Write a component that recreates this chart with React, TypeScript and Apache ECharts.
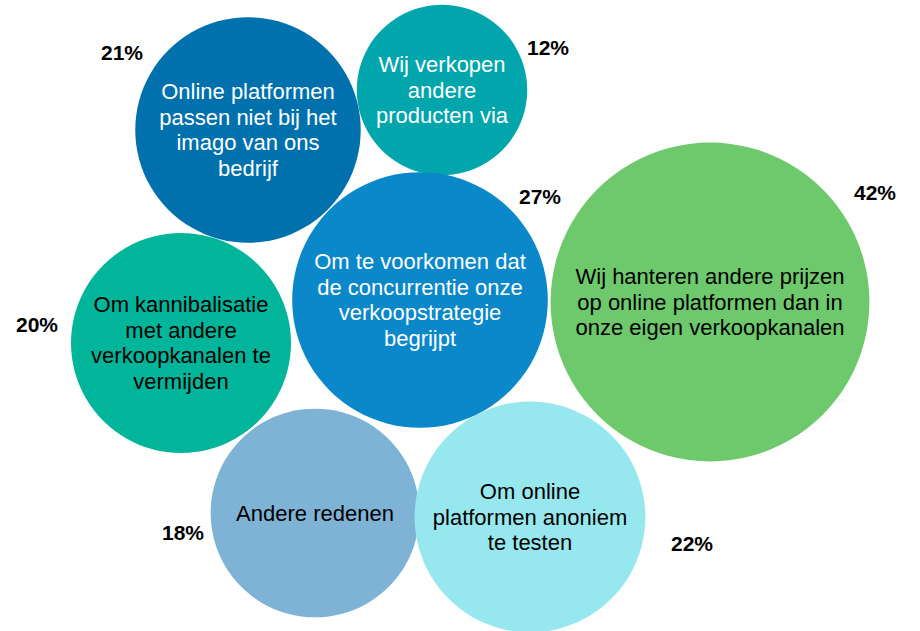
import React, { useEffect, useRef } from "react";
import * as echarts from "echarts";

// Draw order (later items on top)
const labels = [
  "Om kannibalisatie\nmet andere\nverkoopkanalen te\nvermijden",
  "Online platformen\npassen niet bij het\nimago van ons\nbedrijf",
  "Wij verkopen\nandere\nproducten via",
  "Om te voorkomen dat\nde concurrentie onze\nverkoopstrategie\nbegrijpt",
  "Wij hanteren andere prijzen\nop online platformen dan in\nonze eigen verkoopkanalen",
  "Andere redenen",
  "Om online\nplatformen anoniem\nte testen",
];
const values = [20, 21, 12, 27, 42, 18, 22];
const centerX = [181, 248, 442, 420, 710, 315, 530];
const centerY = [343, 130, 90, 300, 302, 513, 517];
const pctX = [37, 122, 548, 540, 875, 183, 692];
const pctY = [324, 52, 47, 196, 192, 532, 543];
const colors = ["#00B59A", "#0071AC", "#00A6AC", "#0A88CA", "#6DC96C", "#7FB3D6", "#96E8EE"];
const textColors = ["#000000", "#FFFFFF", "#FFFFFF", "#FFFFFF", "#000000", "#000000", "#000000"];

const K = 24.6;

export default function App() {
  const ref = useRef<HTMLDivElement>(null);
  useEffect(() => {
    if (!ref.current) return;
    const chart = echarts.init(ref.current, null, { renderer: "svg" });
    const bubbleData = values.map((v, i) => ({
      value: [centerX[i], centerY[i], v],
      itemStyle: { color: colors[i], opacity: 1 },
      label: { color: textColors[i] },
      name: labels[i],
    }));
    const pctData = values.map((v, i) => ({ value: [pctX[i], pctY[i], v] }));
    chart.setOption({
      animation: false,
      grid: { left: 0, right: 0, top: 0, bottom: 0 },
      xAxis: { type: "value", min: 0, max: 920, show: false },
      yAxis: { type: "value", min: 0, max: 631, inverse: true, show: false },
      series: [
        {
          type: "scatter",
          data: bubbleData,
          symbol: "circle",
          symbolSize: (val: number[]) => 2 * K * Math.sqrt(val[2]),
          emphasis: { disabled: true },
          label: {
            show: true,
            position: "inside",
            formatter: (p: any) => p.name,
            fontFamily: "Liberation Sans, Arial, sans-serif",
            fontSize: 22,
            lineHeight: 25.5,
            align: "center",
            textBorderWidth: 0,
          },
        },
        {
          type: "scatter",
          data: pctData,
          symbol: "circle",
          symbolSize: 1,
          itemStyle: { color: "rgba(255,255,255,0)" },
          emphasis: { disabled: true },
          label: {
            show: true,
            position: "inside",
            formatter: (p: any) => p.value[2] + "%",
            fontFamily: "Liberation Sans, Arial, sans-serif",
            fontSize: 21,
            fontWeight: "bold",
            color: "#000000",
            opacity: 1,
            textBorderWidth: 0,
            textBorderColor: "transparent",
          },
        },
      ],
    });
    return () => chart.dispose();
  }, []);
  return (
    <div
      ref={ref}
      style={{ position: "fixed", left: 0, top: 0, width: 920, height: 631, background: "#fff" }}
    />
  );
}
